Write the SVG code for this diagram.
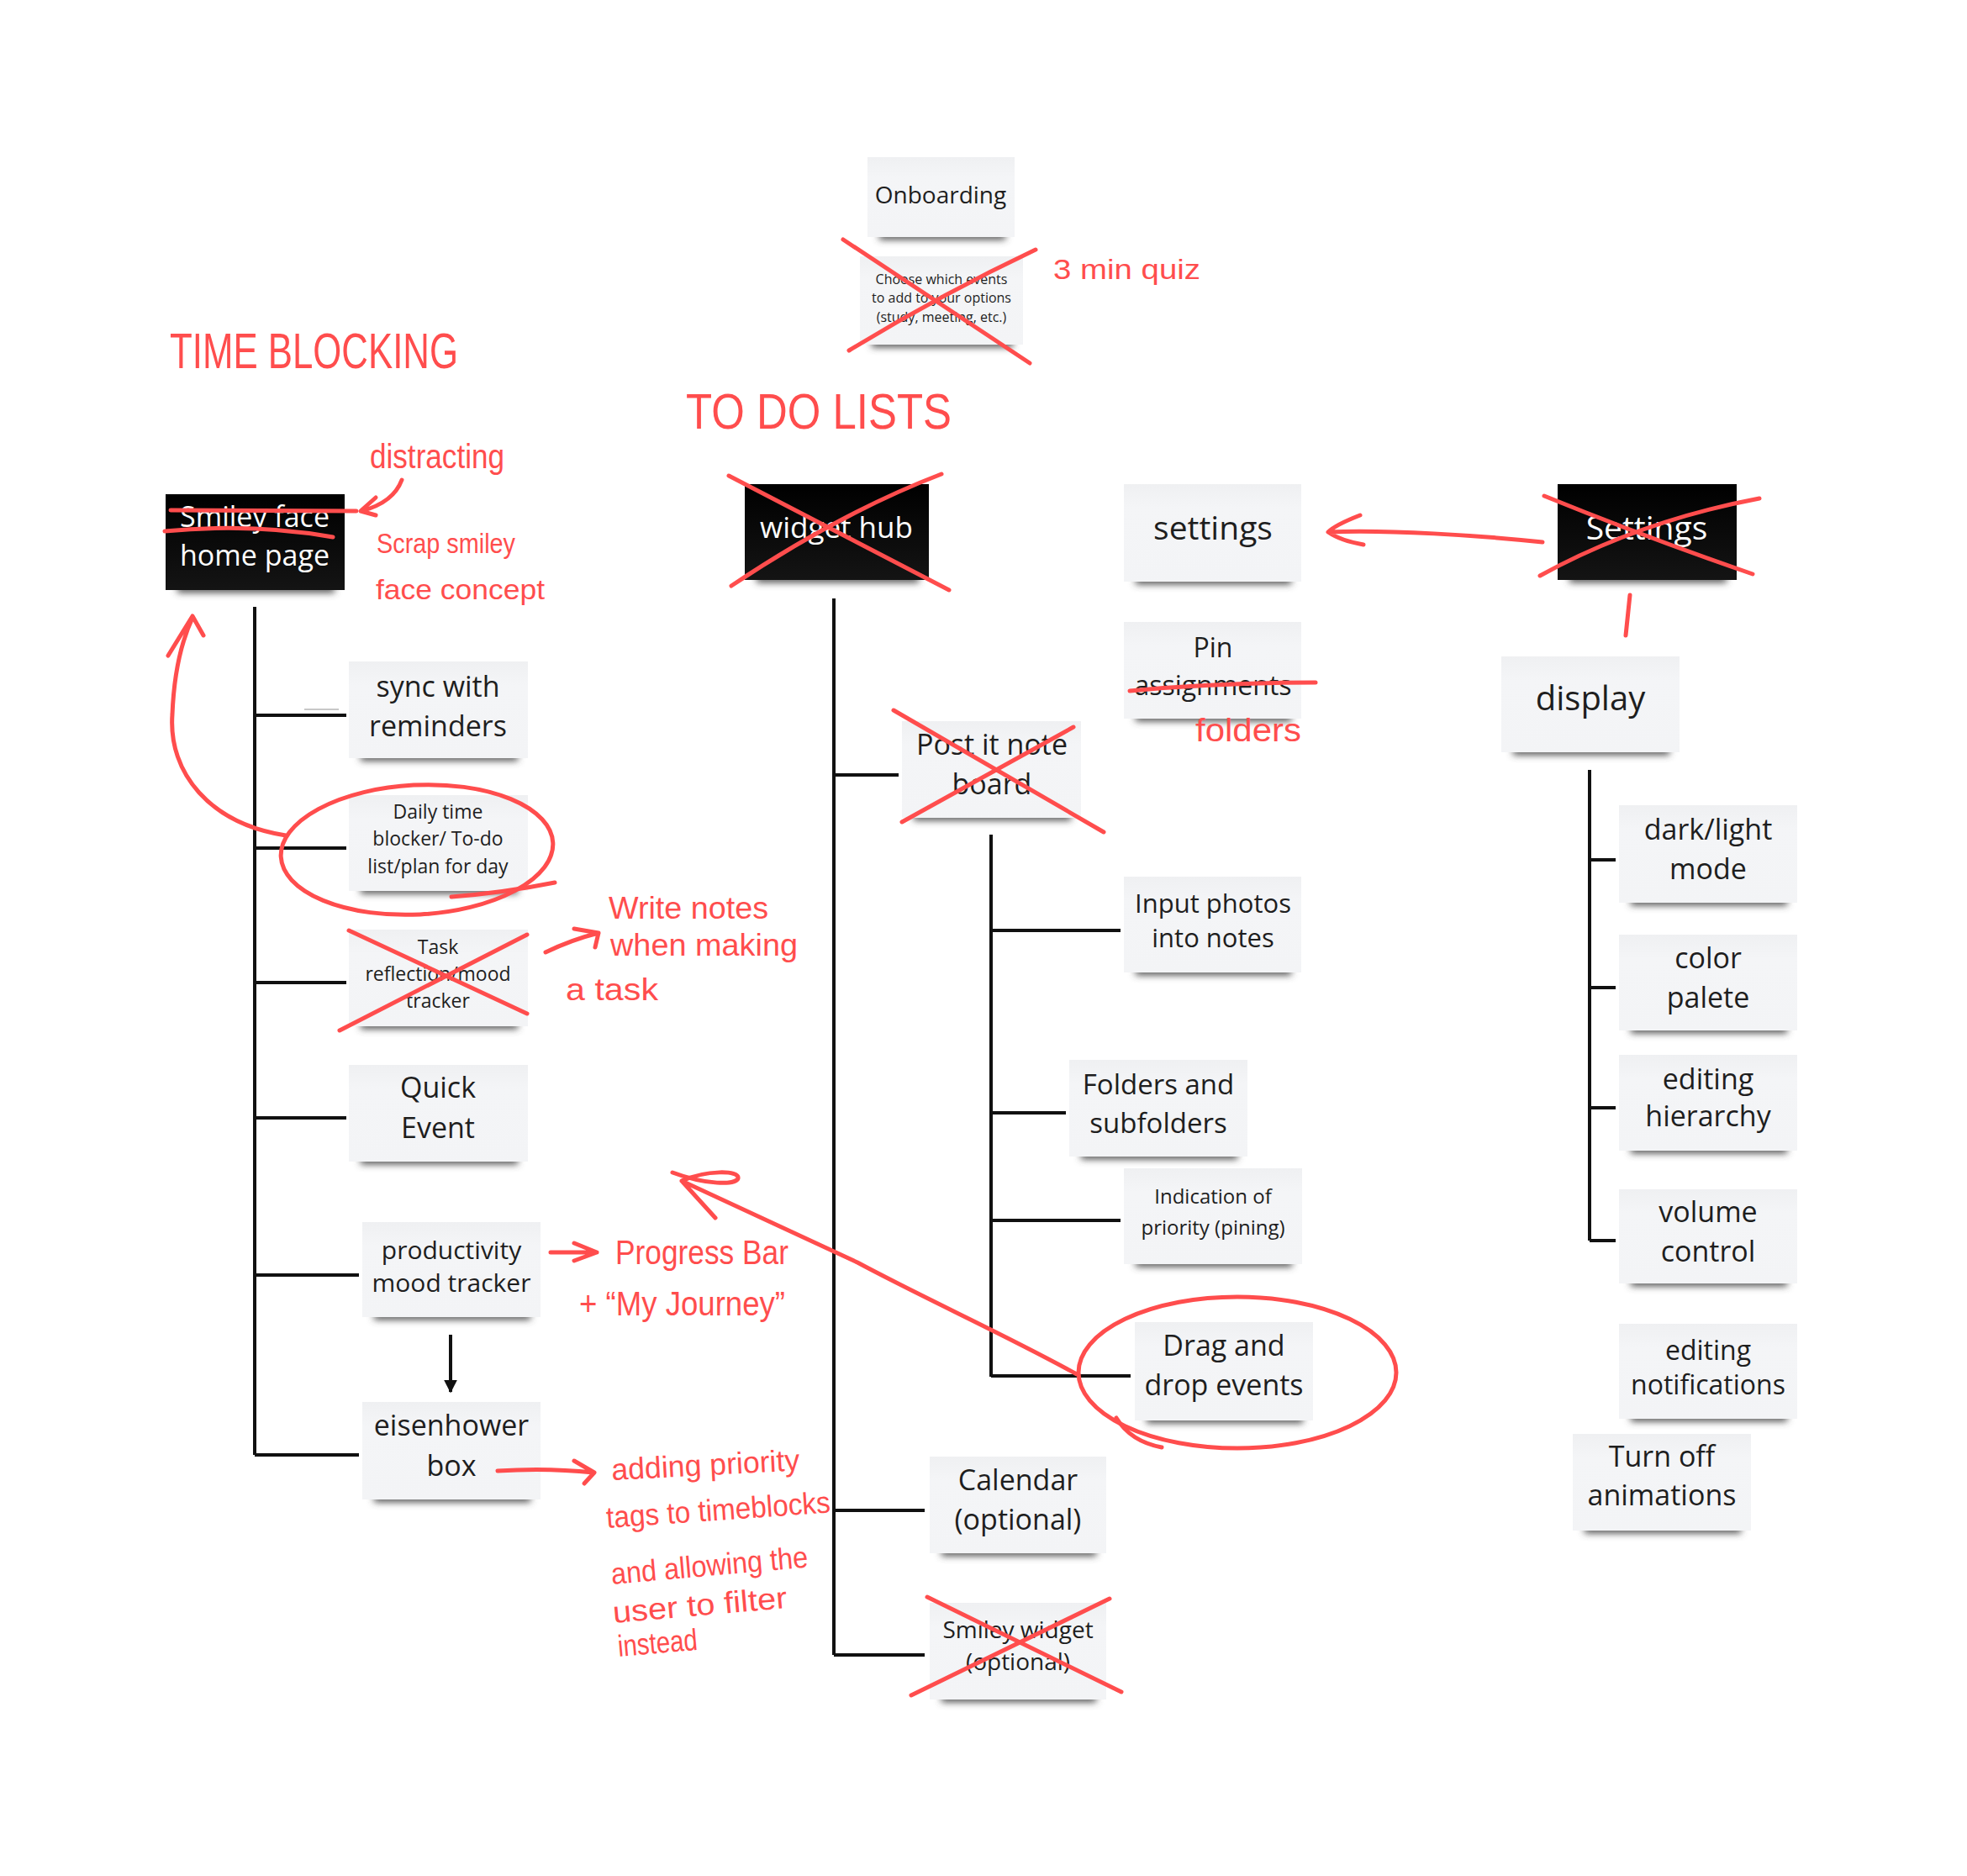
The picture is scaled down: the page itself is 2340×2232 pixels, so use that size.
<svg xmlns="http://www.w3.org/2000/svg" width="2340" height="2232" viewBox="0 0 2340 2232">
<style>
.n{fill:url(#ng)}
.b{fill:url(#bg)}
.s{fill:#4a4a4a;filter:url(#blur)}
.t{font-family:"Open Sans","Noto Sans","Liberation Sans",sans-serif;font-size:34px;fill:#1e1e1e;text-anchor:middle}
.w{fill:#ffffff}
.k{stroke:#111;stroke-width:4;fill:none}
.r{stroke:#ff4d4d;stroke-width:5;fill:none;stroke-linecap:round;stroke-linejoin:round}
.h{font-family:"Liberation Sans","DejaVu Sans",sans-serif;fill:#ff4d4d}
</style>
<defs>
<linearGradient id="ng" x1="0" y1="0" x2="0" y2="1">
<stop offset="0" stop-color="#eff0f2"/>
<stop offset="0.25" stop-color="#f4f5f7"/>
<stop offset="1" stop-color="#f3f4f6"/>
</linearGradient>
<linearGradient id="bg" x1="0" y1="0" x2="0" y2="1">
<stop offset="0" stop-color="#000"/>
<stop offset="1" stop-color="#141414"/>
</linearGradient>
<filter id="blur" x="-20%" y="-200%" width="140%" height="500%">
<feGaussianBlur stdDeviation="4"/>
</filter>
<marker id="ah" viewBox="0 0 10 10" refX="9" refY="5" markerWidth="4" markerHeight="4" orient="auto">
<path d="M0,0 L10,5 L0,10 z" fill="#111"/>
</marker>
</defs>
<rect width="2340" height="2232" fill="#ffffff"/>

<g id="connectors">
<path class="k" d="M303,722 V1731 M303,851 H412 M303,1009 H412 M303,1169 H412 M303,1330 H412 M303,1517 H427 M303,1731 H427"/>
<path d="M362,844 H403" stroke="#c8c8c8" stroke-width="2"/>
<path class="k" d="M536,1588 V1656" marker-end="url(#ah)"/>
<path class="k" d="M992,712 V1969 M992,922 H1069 M992,1797 H1100 M992,1969 H1100"/>
<path class="k" d="M1179,993 V1638 M1179,1107 H1333 M1179,1324 H1268 M1179,1452 H1333 M1179,1637 H1345"/>
<path class="k" d="M1891,916 V1476 M1891,1023 H1922 M1891,1175 H1922 M1891,1318 H1922 M1891,1476 H1922"/>
</g>

<g id="node-onboarding">
<rect class="s" x="1046" y="276" width="150" height="9"/>
<rect class="n" x="1032" y="187" width="175" height="95"/>
<text class="t" x="1119" y="242" style="font-size:28px">Onboarding</text>
</g>
<g id="node-choose">
<rect class="s" x="1037" y="404" width="168" height="9"/>
<rect class="n" x="1023" y="305" width="194" height="105"/>
<text class="t" x="1120" y="338" style="font-size:16px">Choose which events</text>
<text class="t" x="1120" y="360" style="font-size:16px">to add to your options</text>
<text class="t" x="1120" y="383" style="font-size:16px">(study, meeting, etc.)</text>
</g>
<g id="node-home">
<rect class="s" x="211" y="696" width="187" height="9"/>
<rect class="b" x="197" y="588" width="213" height="114"/>
<text class="t w" x="303" y="627">Smiley face</text>
<text class="t w" x="303" y="673">home page</text>
</g>
<g id="node-sync">
<rect class="s" x="429" y="896" width="187" height="9"/>
<rect class="n" x="415" y="787" width="213" height="115"/>
<text class="t" x="521" y="829">sync with</text>
<text class="t" x="521" y="876">reminders</text>
</g>
<g id="node-daily">
<rect class="s" x="429" y="1054" width="187" height="9"/>
<rect class="n" x="415" y="946" width="213" height="114"/>
<text class="t" x="521" y="974" style="font-size:23px">Daily time</text>
<text class="t" x="521" y="1006" style="font-size:23px">blocker/ To-do</text>
<text class="t" x="521" y="1039" style="font-size:23px">list/plan for day</text>
</g>
<g id="node-task">
<rect class="s" x="429" y="1215" width="187" height="9"/>
<rect class="n" x="415" y="1106" width="213" height="115"/>
<text class="t" x="521" y="1135" style="font-size:23px">Task</text>
<text class="t" x="521" y="1167" style="font-size:23px">reflection/mood</text>
<text class="t" x="521" y="1199" style="font-size:23px">tracker</text>
</g>
<g id="node-quick">
<rect class="s" x="429" y="1376" width="187" height="9"/>
<rect class="n" x="415" y="1267" width="213" height="115"/>
<text class="t" x="521" y="1306">Quick</text>
<text class="t" x="521" y="1354">Event</text>
</g>
<g id="node-productivity">
<rect class="s" x="445" y="1561" width="186" height="9"/>
<rect class="n" x="431" y="1454" width="212" height="113"/>
<text class="t" x="537" y="1498" style="font-size:30px">productivity</text>
<text class="t" x="537" y="1537" style="font-size:30px">mood tracker</text>
</g>
<g id="node-eisenhower">
<rect class="s" x="445" y="1778" width="186" height="9"/>
<rect class="n" x="431" y="1668" width="212" height="116"/>
<text class="t" x="537" y="1708">eisenhower</text>
<text class="t" x="537" y="1756">box</text>
</g>
<g id="node-widgethub">
<rect class="s" x="900" y="684" width="193" height="9"/>
<rect class="b" x="886" y="576" width="219" height="114"/>
<text class="t w" x="995" y="640" style="font-size:35px">widget hub</text>
</g>
<g id="node-settings">
<rect class="s" x="1351" y="686" width="185" height="9"/>
<rect class="n" x="1337" y="576" width="211" height="116"/>
<text class="t" x="1443" y="642" style="font-size:39px">settings</text>
</g>
<g id="node-pin">
<rect class="s" x="1351" y="849" width="185" height="9"/>
<rect class="n" x="1337" y="740" width="211" height="115"/>
<text class="t" x="1443" y="782" style="font-size:32px">Pin</text>
<text class="t" x="1443" y="827" style="font-size:32px">assignments</text>
</g>
<g id="node-postit">
<rect class="s" x="1087" y="967" width="187" height="9"/>
<rect class="n" x="1073" y="858" width="213" height="115"/>
<text class="t" x="1180" y="898">Post it note</text>
<text class="t" x="1180" y="945">board</text>
</g>
<g id="node-input">
<rect class="s" x="1351" y="1151" width="185" height="9"/>
<rect class="n" x="1337" y="1043" width="211" height="114"/>
<text class="t" x="1443" y="1086" style="font-size:31px">Input photos</text>
<text class="t" x="1443" y="1127" style="font-size:31px">into notes</text>
</g>
<g id="node-folders">
<rect class="s" x="1286" y="1370" width="186" height="9"/>
<rect class="n" x="1272" y="1261" width="212" height="115"/>
<text class="t" x="1378" y="1302" style="font-size:33px">Folders and</text>
<text class="t" x="1378" y="1348" style="font-size:33px">subfolders</text>
</g>
<g id="node-indication">
<rect class="s" x="1351" y="1498" width="186" height="9"/>
<rect class="n" x="1337" y="1390" width="212" height="114"/>
<text class="t" x="1443" y="1432" style="font-size:24px">Indication of</text>
<text class="t" x="1443" y="1469" style="font-size:24px">priority (pining)</text>
</g>
<g id="node-drag">
<rect class="s" x="1364" y="1684" width="186" height="9"/>
<rect class="n" x="1350" y="1573" width="212" height="117"/>
<text class="t" x="1456" y="1613">Drag and</text>
<text class="t" x="1456" y="1660">drop events</text>
</g>
<g id="node-calendar">
<rect class="s" x="1120" y="1842" width="184" height="9"/>
<rect class="n" x="1106" y="1733" width="210" height="115"/>
<text class="t" x="1211" y="1773">Calendar</text>
<text class="t" x="1211" y="1820">(optional)</text>
</g>
<g id="node-smileywidget">
<rect class="s" x="1120" y="2016" width="184" height="9"/>
<rect class="n" x="1106" y="1907" width="210" height="115"/>
<text class="t" x="1211" y="1949" style="font-size:28px">Smiley widget</text>
<text class="t" x="1211" y="1987" style="font-size:28px">(optional)</text>
</g>
<g id="node-Settings">
<rect class="s" x="1867" y="684" width="187" height="9"/>
<rect class="b" x="1853" y="576" width="213" height="114"/>
<text class="t w" x="1959" y="642" style="font-size:39px">Settings</text>
</g>
<g id="node-display">
<rect class="s" x="1800" y="889" width="186" height="9"/>
<rect class="n" x="1786" y="781" width="212" height="114"/>
<text class="t" x="1892" y="845" style="font-size:40px">display</text>
</g>
<g id="node-darklight">
<rect class="s" x="1940" y="1068" width="186" height="9"/>
<rect class="n" x="1926" y="958" width="212" height="116"/>
<text class="t" x="2032" y="999">dark/light</text>
<text class="t" x="2032" y="1046">mode</text>
</g>
<g id="node-color">
<rect class="s" x="1940" y="1220" width="186" height="9"/>
<rect class="n" x="1926" y="1112" width="212" height="114"/>
<text class="t" x="2032" y="1152">color</text>
<text class="t" x="2032" y="1199">palete</text>
</g>
<g id="node-editinghierarchy">
<rect class="s" x="1940" y="1363" width="186" height="9"/>
<rect class="n" x="1926" y="1255" width="212" height="114"/>
<text class="t" x="2032" y="1296">editing</text>
<text class="t" x="2032" y="1340">hierarchy</text>
</g>
<g id="node-volume">
<rect class="s" x="1940" y="1521" width="186" height="9"/>
<rect class="n" x="1926" y="1415" width="212" height="112"/>
<text class="t" x="2032" y="1454">volume</text>
<text class="t" x="2032" y="1501">control</text>
</g>
<g id="node-notifications">
<rect class="s" x="1940" y="1682" width="186" height="9"/>
<rect class="n" x="1926" y="1575" width="212" height="113"/>
<text class="t" x="2032" y="1618" style="font-size:32px">editing</text>
<text class="t" x="2032" y="1659" style="font-size:32px">notifications</text>
</g>
<g id="node-animations">
<rect class="s" x="1885" y="1815" width="186" height="9"/>
<rect class="n" x="1871" y="1706" width="212" height="115"/>
<text class="t" x="1977" y="1745">Turn off</text>
<text class="t" x="1977" y="1791">animations</text>
</g>

<g id="annotations">
<path class="r" d="M1003,285 L1225,432 M1010,417 Q1120,350 1232,297"/>
<text class="h" x="1253" y="332" font-size="34" textLength="175" lengthAdjust="spacingAndGlyphs">3 min quiz</text>
<text class="h" x="202" y="438" font-size="60" textLength="343" lengthAdjust="spacingAndGlyphs">TIME BLOCKING</text>
<text class="h" x="816" y="510" font-size="60" textLength="316" lengthAdjust="spacingAndGlyphs">TO DO LISTS</text>
<path class="r" d="M203,607 L424,608 M196,632 Q300,622 396,639"/>
<path class="r" d="M478,571 Q468,598 430,608 M447,592 L429,608 L447,613"/>
<text class="h" x="440" y="557" font-size="40" textLength="160" lengthAdjust="spacingAndGlyphs">distracting</text>
<text class="h" x="448" y="658" font-size="34" textLength="165" lengthAdjust="spacingAndGlyphs">Scrap smiley</text>
<text class="h" x="447" y="713" font-size="34" textLength="201" lengthAdjust="spacingAndGlyphs">face concept</text>
<ellipse class="r" cx="496" cy="1011" rx="162" ry="77" transform="rotate(-3 496 1011)"/>
<path class="r" d="M537,1067 Q600,1062 660,1050"/>
<path class="r" d="M340,994 C250,980 200,920 205,850 C207,800 215,765 229,735 M200,780 L229,733 L242,756"/>
<path class="r" d="M415,1107 L627,1206 M627,1112 L404,1226"/>
<path class="r" d="M649,1133 Q680,1118 712,1110 M683,1105 L712,1110 L708,1127"/>
<text class="h" x="724" y="1093" font-size="36" textLength="190" lengthAdjust="spacingAndGlyphs">Write notes</text>
<text class="h" x="726" y="1137" font-size="36" textLength="223" lengthAdjust="spacingAndGlyphs">when making</text>
<text class="h" x="673" y="1190" font-size="36" textLength="110" lengthAdjust="spacingAndGlyphs">a task</text>
<path class="r" d="M655,1490 L710,1490 M683,1479 L710,1490 L683,1500"/>
<text class="h" x="732" y="1504" font-size="40" textLength="206" lengthAdjust="spacingAndGlyphs">Progress Bar</text>
<text class="h" x="689" y="1565" font-size="40" textLength="245" lengthAdjust="spacingAndGlyphs">+ “My Journey”</text>
<path class="r" d="M592,1750 Q650,1746 706,1752 M683,1738 L707,1752 L695,1765"/>
<text class="h" x="728" y="1761" font-size="36" textLength="224" lengthAdjust="spacingAndGlyphs" transform="rotate(-3 728 1761)">adding priority</text>
<text class="h" x="722" y="1818" font-size="36" textLength="267" lengthAdjust="spacingAndGlyphs" transform="rotate(-4 722 1818)">tags to timeblocks</text>
<text class="h" x="728" y="1885" font-size="36" textLength="235" lengthAdjust="spacingAndGlyphs" transform="rotate(-5 728 1885)">and allowing the</text>
<text class="h" x="730" y="1931" font-size="36" textLength="208" lengthAdjust="spacingAndGlyphs" transform="rotate(-5 730 1931)">user to filter</text>
<text class="h" x="736" y="1971" font-size="36" textLength="95" lengthAdjust="spacingAndGlyphs" transform="rotate(-5 736 1971)">instead</text>
<path class="r" d="M1281,1635 C1200,1590 1100,1545 1020,1502 L811,1405 M811,1405 C840,1392 880,1392 878,1402 C875,1410 840,1410 800,1395 M811,1405 L851,1449"/>
<path class="r" d="M867,566 L1129,702 M870,697 Q1000,610 1120,564"/>
<path class="r" d="M1063,845 L1313,990 M1073,978 L1277,865"/>
<path class="r" d="M1344,822 Q1450,812 1565,812"/>
<text class="h" x="1422" y="882" font-size="38" textLength="126" lengthAdjust="spacingAndGlyphs">folders</text>
<ellipse class="r" cx="1472" cy="1633" rx="189" ry="90"/>
<path class="r" d="M1328,1687 Q1345,1715 1382,1722"/>
<path class="r" d="M1103,1900 L1334,2013 M1084,2017 L1320,1902"/>
<path class="r" d="M1837,590 Q1960,640 2085,683 M1832,685 Q1950,620 2093,593"/>
<path class="r" d="M1835,645 C1760,637 1650,630 1581,633 M1618,613 C1600,620 1585,628 1580,633 C1590,640 1605,645 1622,648"/>
<path class="r" d="M1939,708 L1934,756"/>
</g>
</svg>
